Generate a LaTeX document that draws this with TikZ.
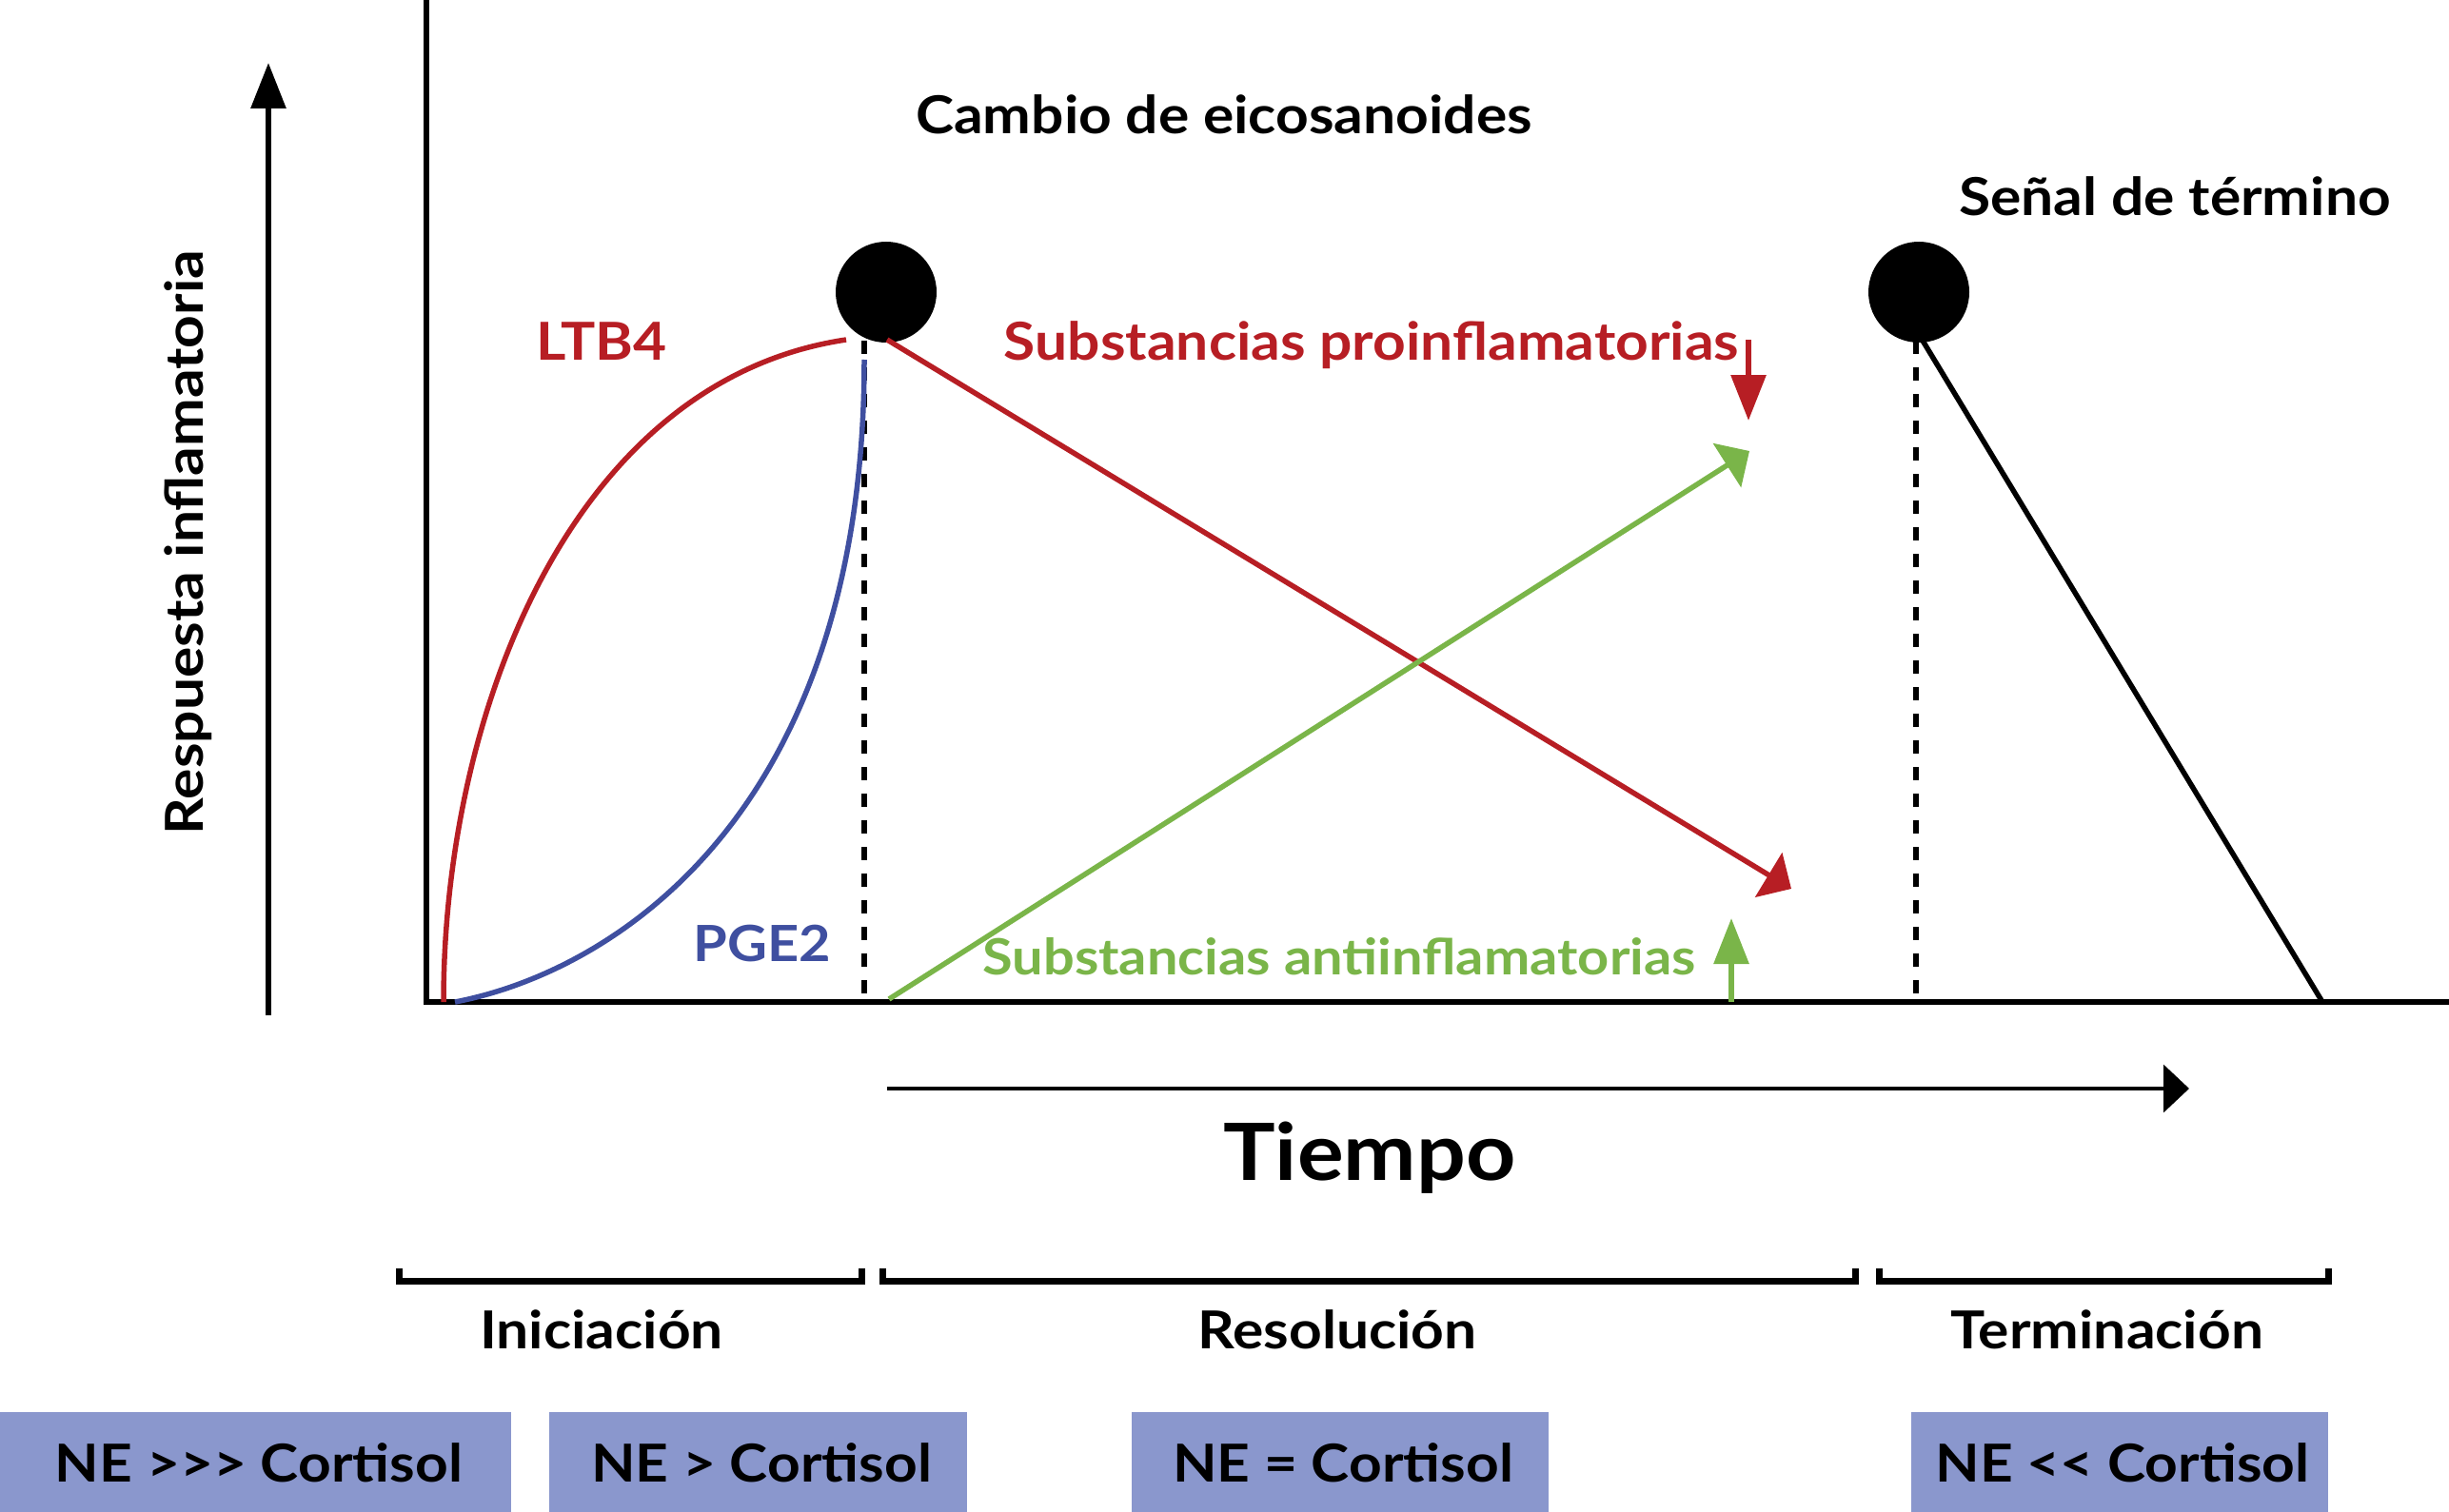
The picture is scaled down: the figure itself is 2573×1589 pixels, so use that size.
\documentclass[tikz,border=0pt]{standalone}
\usepackage{fontspec}
\setmainfont{Lato}[FakeStretch=1.1]
\usetikzlibrary{arrows.meta}
\definecolor{cred}{RGB}{183,30,36}
\definecolor{cblue}{RGB}{63,79,160}
\definecolor{cgreen}{RGB}{122,181,73}
\definecolor{cbox}{RGB}{138,151,205}
\newcommand\fsmid{\fontsize{55}{66}\selectfont\bfseries}
\newcommand\fssmall{\fontsize{52.5}{63}\selectfont\bfseries}
\newcommand\fsbig{\fontsize{83}{100}\selectfont\bfseries}
\newcommand\gtk{>\kern0pt}
\newcommand\ltk{<\kern0pt}
\begin{document}
\begin{tikzpicture}[x=1pt,y=-1pt,
  lbl/.style={inner sep=0pt, anchor=base, font=\fsmid},
  dotnode/.style={circle, fill=black, minimum size=106pt, inner sep=0pt},
  axisline/.style={line width=5.5pt, black},
  curve/.style={line width=5.5pt},
  dashline/.style={line width=6.5pt, dash pattern=on 14pt off 14pt},
  thinhead/.style={-{Triangle[length=48pt,width=36pt]}},
  widehead/.style={-{Triangle[length=28pt,width=54pt]}},
  bracket/.style={line width=7pt},
]
\useasboundingbox (0,0) rectangle (2573,1589);

% axes
\coordinate (o) at (448,1053);
\coordinate (ytop) at (448,0);
\coordinate (xend) at (2573,1053);
\draw[axisline] (ytop) -- (o) -- (xend);

% y arrow and label
\coordinate (ya0) at (282,1067);
\coordinate (ya1) at (282,66);
\draw[line width=6pt, thinhead] (ya0) -- (ya1);
\node[lbl, rotate=90] (ylab) at (213,570) {Respuesta inflamatoria};

% dots
\node[dotnode] (d1) at (931,307) {};
\node[dotnode] (d2) at (2016,307) {};

% dashed verticals
\coordinate (p1) at (908,358);
\coordinate (p1b) at (908,1053);
\coordinate (p2) at (2013,358);
\coordinate (p2b) at (2013,1053);
\draw[dashline] (p1) -- (p1b);
\draw[dashline] (p2) -- (p2b);

% curves
\coordinate (r0) at (466,1053);
\coordinate (r1) at (889,357);
\draw[curve, cred] (r0) .. controls (466,750) and (600,400) .. (r1);
\coordinate (b0) at (478,1053);
\coordinate (b1) at (908,378);
\draw[curve, cblue] (b0) .. controls (650,1020) and (908,850) .. (b1);

% red diagonal
\coordinate (rs) at (932,357);
\coordinate (re) at (1882,934);
\draw[curve, cred, widehead] (rs) -- (re);
% green diagonal
\coordinate (gs) at (934,1050);
\coordinate (ge) at (1838,474);
\draw[curve, cgreen, widehead] (gs) -- (ge);

% black terminating line
\coordinate (ks) at (2017,353);
\coordinate (ke) at (2440,1053);
\draw[curve, black] (ks) -- (ke);

% small vertical arrows
\coordinate (sa0) at (1837,357);
\coordinate (sa1) at (1837,442);
\draw[line width=6pt, cred, thinhead] (sa0) -- (sa1);
\coordinate (sg0) at (1819,1053);
\coordinate (sg1) at (1819,965);
\draw[line width=6pt, cgreen, thinhead] (sg0) -- (sg1);

% time arrow
\coordinate (t0) at (932,1144);
\coordinate (t1) at (2300,1144);
\draw[line width=3.5pt, -{Triangle[length=27pt,width=50pt]}] (t0) -- (t1);

% labels
\node[lbl] (cambio) at (1286,141) {Cambio de eicosanoides};
\node[lbl] (senal) at (2285,227) {Señal de término};
\node[lbl, text=cred] (ltb) at (632,378) {LTB4};
\node[lbl, text=cred] (pro) at (1441,378) {Substancias proinflamatorias};
\node[lbl, text=cblue, font=\fssmall] (pge) at (801,1010) {PGE2};
\node[lbl, text=cgreen, font=\fssmall] (anti) at (1407,1024) {Substancias antiinflamatorias};
\node[inner sep=0pt, anchor=base, font=\fsbig] (tiempo) at (1439,1240) {Tiempo};

% brackets
\coordinate (k1a) at (419,1333); \coordinate (k1b) at (905,1333);
\coordinate (k2a) at (927,1333); \coordinate (k2b) at (1949,1333);
\coordinate (k3a) at (1974,1333); \coordinate (k3b) at (2446,1333);
\draw[bracket] (k1a) -- (419,1346) -- (905,1346) -- (k1b);
\draw[bracket] (k2a) -- (927,1346) -- (1949,1346) -- (k2b);
\draw[bracket] (k3a) -- (1974,1346) -- (2446,1346) -- (k3b);
\node[lbl] (ini) at (632,1417) {Iniciación};
\node[lbl] (res) at (1405,1417) {Resolución};
\node[lbl] (ter) at (2214,1417) {Terminación};

% boxes
\fill[cbox] (0,1484) rectangle (537,1589);
\fill[cbox] (577,1484) rectangle (1016,1589);
\fill[cbox] (1189,1484) rectangle (1627,1589);
\fill[cbox] (2008,1484) rectangle (2446,1589);
\node[lbl] (bx1) at (272,1557) {NE \gtk\gtk> Cortisol};
\node[lbl] (bx2) at (800,1557) {NE > Cortisol};
\node[lbl] (bx3) at (1411,1557) {NE = Cortisol};
\node[lbl] (bx4) at (2230,1557) {NE \ltk< Cortisol};
\end{tikzpicture}
\end{document}
